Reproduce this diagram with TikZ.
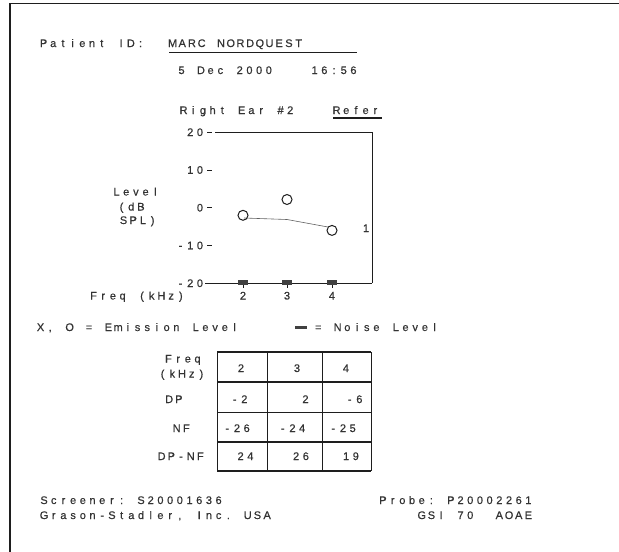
\documentclass[tikz,border=0pt]{standalone}
\usepackage{fontspec}
\setmainfont{Liberation Sans}[FakeBold=0.5]
\definecolor{txt}{HTML}{333333}
\definecolor{ink}{HTML}{1E1E1E}
\newlength\cw
\setlength\cw{9.7pt}
\def\mt#1{\mtA#1\relax}
\def\mtA#1{\ifx#1\relax\else\makebox[\cw][c]{#1}\expandafter\mtA\fi}
\begin{document}
\begin{tikzpicture}[x=1pt,y=-1pt,
  every node/.style={inner sep=0pt, text=txt, font=\fontsize{11}{13}\selectfont},
  lw/.style={anchor=base west},
  le/.style={anchor=base east},
  lc/.style={anchor=base},
  thickline/.style={draw=ink, line width=1.4pt},
  thinline/.style={draw=ink, line width=0.7pt},
  emis/.style={draw=ink, line width=1pt},
  noise/.style={fill=ink!85},
  trend/.style={draw=ink!70, line width=0.6pt}]
\useasboundingbox (0,0) rectangle (619,552);
\fill[white] (0,0) rectangle (619,552);
% page frame (scan edge)
\draw[draw=ink, line width=1.6pt] (10,552) -- (10,3.5) -- (619,3.5);

% header
\node[lw] (pid) at (38.5,47) {\mt{Patient~ID:}};
\node[lw] (name) at (167.5,47) {\mt{MARC~NORDQUEST}};
\draw[thickline, line width=1.2pt] (169,52.5) -- (357,52.5);
\node[lw] (date) at (176.5,74) {\mt{5~Dec~2000}};
\node[le] (time) at (358.5,74) {\mt{16:56}};
\node[lw] (ear) at (178.5,114) {\mt{Right~Ear~\#2}};
\node[lw] (refer) at (331.5,114) {\mt{Refer}};
\draw[thickline, line width=1.6pt] (333,118) -- (382,118);

% plot frame
\draw[thickline] (215,132.25) -- (372,132.25);
\draw[thinline] (372,132.25) -- (372,283.25);
\draw[thickline] (205,283.25) -- (372,283.25);
\foreach \v/\t in {20/20,10/10,0/0,-10/-10,-20/-20}{
  \draw[thinline] (207,207.75-3.775*\v) -- (212,207.75-3.775*\v);
  \node[le] (yl\v) at (205,211.5-3.775*\v) {\expandafter\mt\expandafter{\t}};
}
\node[lw] (lev1) at (111.5,195.5) {\mt{Level}};
\node[lw] (lev2) at (116.5,210.5) {\mt{(dB}};
\node[lw] (lev3) at (118.5,224) {\mt{SPL)}};

% x axis
\foreach \x/\k in {243/2,287/3,332/4}{
  \draw[thinline] (\x,283.25) -- (\x,288);
  \fill[noise] (\x-5,279.5) rectangle (\x+5,284.5);
  \node[lc] (xl\k) at (\x,299.5) {\mt{\k}};
}
\node[lw] (freqax) at (88.5,299.5) {\mt{Freq~(kHz)}};

% data
\draw[trend] (244,218) -- (287,219.5) -- (328,227);
\draw[emis] (243,215.3) circle (5);
\draw[emis] (287,199.5) circle (5);
\draw[emis] (332,230.4) circle (5);
\node[lc] (one) at (366,232) {\mt{1}};

% legend
\node[lw] (leg1) at (35.5,331) {\mt{X,~O~=~Emission~Level}};
\fill[ink!85] (295,325.5) rectangle (307,328.8);
\node[lw] (leg2) at (303.5,331) {\mt{~=~Noise~Level}};

% table
\foreach \yy in {352,382,412.5,442,471}{
  \draw[thickline, line width=1.2pt] (217,\yy) -- (371,\yy);
}
\foreach \xx in {217,267,322,371}{
  \draw[thinline, line width=0.6pt] (\xx,352) -- (\xx,471);
}
\node[lc] (tf1) at (183,362.5) {\mt{Freq}};
\node[lc] (tf2) at (182,377.5) {\mt{(kHz)}};
\node[lc] (tdp) at (174,403) {\mt{DP}};
\node[lc] (tnf) at (181.5,432) {\mt{NF}};
\node[lc] (tdn) at (181,460) {\mt{DP-NF}};
\node[lc] (c11) at (241,372) {\mt{2}};
\node[lc] (c12) at (297,372) {\mt{3}};
\node[lc] (c13) at (346,372) {\mt{4}};
\node[lc] (c21) at (239.5,403) {\mt{-2}};
\node[lc] (c22) at (305.5,403) {\mt{2}};
\node[lc] (c23) at (354.5,403) {\mt{-6}};
\node[lc] (c31) at (237,432) {\mt{-26}};
\node[lc] (c32) at (292.5,432) {\mt{-24}};
\node[lc] (c33) at (343,432) {\mt{-25}};
\node[lc] (c41) at (245.5,460) {\mt{24}};
\node[lc] (c42) at (301,460) {\mt{26}};
\node[lc] (c43) at (351,460) {\mt{19}};

% footer
\node[lw] (scr) at (39,504) {\mt{Screener:~S20001636}};
\node[lw] (gsi) at (39,519) {\mt{Grason-Stadler,~Inc.~USA}};
\node[le] (probe) at (533.5,504) {\mt{Probe:~P20002261}};
\node[le] (model) at (533.5,519) {\mt{GSI~70~~AOAE}};
\end{tikzpicture}
\end{document}
